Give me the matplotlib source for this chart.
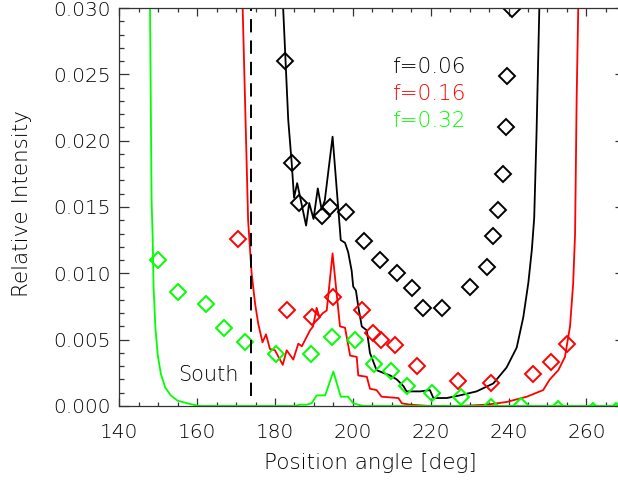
import matplotlib
matplotlib.use("Agg")
import matplotlib.pyplot as plt
from matplotlib.ticker import MultipleLocator, FormatStrFormatter

# model curves (position angle in deg, relative intensity)
pa_f006 = [181.8, 182.1, 183.4, 184.3, 184.9, 185.7, 188.0, 188.8, 189.9, 191.0,
           192.0, 192.8, 194.8, 196.9, 198.0, 198.8, 199.7, 200.1, 200.8, 201.4,
           202.3, 203.6, 204.4, 206.1, 207.8, 209.6, 211.3, 213.0, 213.8, 217.3,
           219.8, 220.7, 224.1, 227.5, 231.8, 236.1, 239.5, 242.1, 243.8, 245.1,
           246.0, 246.6, 247.2, 247.9, 248.0]
int_f006 = [0.0325, 0.0300, 0.0216, 0.0183, 0.0157, 0.0168, 0.0136, 0.0153, 0.0141, 0.0164,
            0.0148, 0.0155, 0.0203, 0.0125, 0.0123, 0.0116, 0.0102, 0.0090, 0.0087, 0.0075,
            0.0060, 0.0057, 0.0040, 0.0027, 0.0025, 0.0023, 0.0020, 0.0015, 0.0011, 0.0011,
            0.0012, 0.0006, 0.0006, 0.0008, 0.0011, 0.0017, 0.0029, 0.0044, 0.0067, 0.0093,
            0.0118, 0.0142, 0.0206, 0.0298, 0.0325]

pa_f016 = [171.6, 171.7, 173.1, 174.0, 174.9, 175.7, 176.8, 177.7, 178.7, 180.0,
           182.0, 183.0, 184.7, 186.0, 186.9, 189.0, 189.8, 190.7, 191.4, 192.3,
           193.3, 194.8, 196.7, 198.0, 199.3, 201.0, 201.4, 203.6, 204.4, 206.1,
           207.4, 211.7, 212.6, 214.7, 219.8, 227.5, 234.4, 239.5, 244.7, 248.9,
           250.6, 252.8, 254.5, 255.8, 256.6, 257.1, 257.5, 257.9, 258.0]
int_f016 = [0.0325, 0.0300, 0.0140, 0.0100, 0.0077, 0.0062, 0.0048, 0.0054, 0.0043, 0.0042,
            0.0031, 0.0042, 0.0035, 0.0047, 0.0045, 0.0057, 0.0060, 0.0074, 0.0067, 0.0070,
            0.0072, 0.0115, 0.0060, 0.0059, 0.0038, 0.0037, 0.0023, 0.0022, 0.0013, 0.0012,
            0.0007, 0.0006, 0.0002, 0.0001, 0.0000, 0.0000, 0.0001, 0.0003, 0.0007, 0.0012,
            0.0020, 0.0027, 0.0037, 0.0060, 0.0092, 0.0130, 0.0231, 0.0298, 0.0325]

pa_f032 = [147.85, 147.9, 148.3, 148.6, 148.8, 149.3, 149.9, 150.7, 151.8, 153.2,
           155.0, 157.5, 160.5, 185.1, 186.4, 188.1, 189.4, 190.7, 192.9, 195.0,
           196.9, 198.8, 200.1, 202.7, 270.0]
int_f032 = [0.0325, 0.0300, 0.0155, 0.0125, 0.0090, 0.0058, 0.0038, 0.0024, 0.0014, 0.0008,
            0.0004, 0.0002, 0.0000, 0.0000, 0.0001, 0.0001, 0.0002, 0.0008, 0.0008, 0.0026,
            0.0007, 0.0007, 0.0002, 0.0000, 0.0000]

# measured points
obs_pa_f006 = [182.6, 184.3, 186.2, 192.2, 194.1, 198.2, 203.0, 206.9, 211.3, 215.2,
               218.0, 222.9, 230.1, 234.5, 236.0, 237.3, 238.6, 239.3, 239.7, 241.0]
obs_int_f006 = [0.0260, 0.0183, 0.0153, 0.0143, 0.0150, 0.0146, 0.0124, 0.0110, 0.0100, 0.0089,
                0.0074, 0.0074, 0.0090, 0.0105, 0.0128, 0.0148, 0.0175, 0.0210, 0.0249, 0.0299]

obs_pa_f016 = [170.6, 183.2, 189.4, 195.0, 202.3, 205.3, 207.2, 210.8, 216.4, 227.1,
               235.5, 246.4, 250.9, 255.0]
obs_int_f016 = [0.0126, 0.0072, 0.0067, 0.0082, 0.0072, 0.0055, 0.0050, 0.0046, 0.0030, 0.0019,
                0.0017, 0.0024, 0.0033, 0.0047]

obs_pa_f032 = [150.0, 155.0, 162.2, 167.0, 172.3, 180.2, 189.2, 194.7, 200.6, 205.4,
               209.7, 213.8, 220.4, 227.7, 235.6, 243.3, 252.7, 261.7, 267.7]
obs_int_f032 = [0.0110, 0.0086, 0.0077, 0.0059, 0.0048, 0.0039, 0.0039, 0.0052, 0.0050, 0.0032,
                0.0026, 0.0015, 0.0010, 0.0007, -0.0001, 0.0000, -0.0002, -0.0004, -0.0004]

south_pa = 173.8
labels = ["f=0.06", "f=0.16", "f=0.32"]
colors = ["black", "#ff0000", "#00ff00"]

plt.rcParams["font.family"] = "DejaVu Sans"
plt.rcParams["font.weight"] = "light"
plt.rcParams["axes.labelweight"] = "light"
plt.rcParams["lines.scale_dashes"] = False

fig = plt.figure(figsize=(6.18, 4.82), dpi=100)
ax = fig.add_axes([0.1930, 0.1577, 0.8188, 0.8257])

curves = [(pa_f006, int_f006), (pa_f016, int_f016), (pa_f032, int_f032)]
points = [(obs_pa_f006, obs_int_f006), (obs_pa_f016, obs_int_f016), (obs_pa_f032, obs_int_f032)]
for (cx, cy), (px, py), c in zip(curves, points, colors):
    ax.plot(cx, cy, color=c, lw=1.3)
    ax.plot(px, py, ls="none", marker="D", ms=8.4, mfc="none", mec=c, mew=1.4)

# direction of the southern pole
ax.plot([south_pa, south_pa], [0.00075, 0.0305], color="black", lw=1.4,
        dashes=[9.6, 5.8])
ax.text(155.1, 0.0023, "South", fontsize=15, color="black", ha="left", va="center")

for i, (lab, c) in enumerate(zip(labels, colors)):
    ax.text(0.540, 0.851 - i * 0.068, lab, transform=ax.transAxes, fontsize=15.5,
            color=c, ha="left", va="center")

ax.set_xlim(140, 270)
ax.set_ylim(0, 0.030)
ax.xaxis.set_major_locator(MultipleLocator(20))
ax.xaxis.set_minor_locator(MultipleLocator(5))
ax.yaxis.set_major_locator(MultipleLocator(0.005))
ax.yaxis.set_minor_locator(MultipleLocator(0.001))
ax.yaxis.set_major_formatter(FormatStrFormatter("%.3f"))

ax.tick_params(axis="both", which="both", direction="in", top=True, right=True,
               color="#333333", width=0.9, labelcolor="black", labelsize=14.5)
ax.tick_params(axis="x", which="major", length=5.8, pad=12)
ax.tick_params(axis="x", which="minor", length=2.9)
ax.tick_params(axis="y", which="major", length=7, pad=6)
ax.tick_params(axis="y", which="minor", length=3.6)
for s in ax.spines.values():
    s.set_color("#333333")
    s.set_linewidth(0.9)

ax.set_xlabel("Position angle [deg]", fontsize=15.5, fontweight="light", va="center")
ax.set_ylabel("Relative Intensity", fontsize=15.5, fontweight="light", va="center")
ax.xaxis.set_label_coords(0.4955, -0.143)
ax.yaxis.set_label_coords(-0.192, 0.509)

fig.savefig("out.png", dpi=100)
plt.close(fig)
